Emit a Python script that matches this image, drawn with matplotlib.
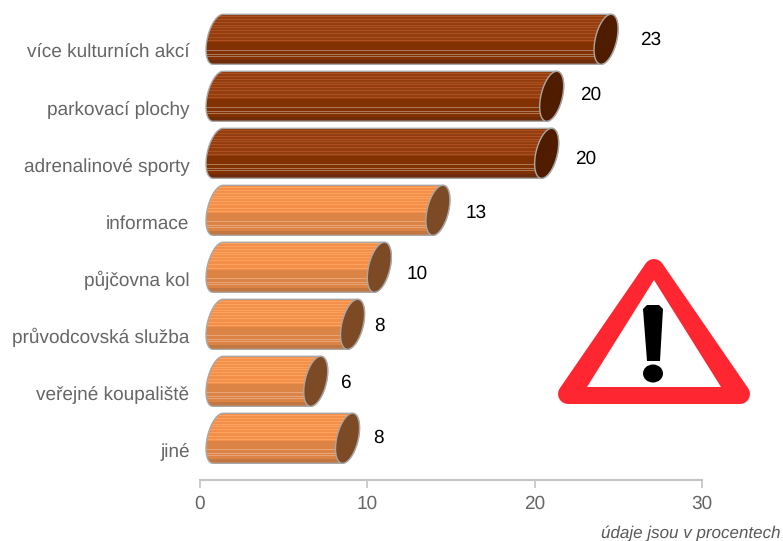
import numpy as np
import matplotlib
matplotlib.use("Agg")
import matplotlib.pyplot as plt
from matplotlib.patches import Polygon, Ellipse
from matplotlib.colors import to_rgb

categories = ["více kulturních akcí", "parkovací plochy", "adrenalinové sporty", "informace",
              "půjčovna kol", "průvodcovská služba", "veřejné koupaliště", "jiné"]
values = [23.25, 20.0, 19.7, 13.2, 9.7, 8.1, 5.9, 7.8]
value_labels = ["23", "20", "20", "13", "10", "8", "6", "8"]
x_ticks = [0, 10, 20, 30]
footnote = "údaje jsou v procentech"

# styling
W, H = 783, 541
X0, X30, Y_AXIS = 200, 702, 480
ROW0, ROW_STEP = 39.3, 57
label_dx = [33, 27, 27, 26, 26, 15, 18, 19]
label_dy = [1, -1, 6, 3, 7, 2, 2, 0]
PAL_DARK = dict(S="#6e2c0a", B="#933e10", L="#ae501e", D="#823102", G="#ab7858", F="#8a4a28")
PAL_ORANGE = dict(S="#c27640", B="#f48f4a", L="#fda35f", D="#db8445", G="#e8a477", F="#c89068")
STRIPES = "FBLBBLBBLBBLBLBBLBBLBBBLBBBLBDDDDDDDDGDDDGDGDDDSSSS"
CAP_DARK, CAP_ORANGE = "#4f1c00", "#7d4a26"
EDGE = "#a8a8a8"
GREY = "#595959"
plt.rcParams["font.family"] = ["Liberation Sans", "DejaVu Sans"]
plt.rcParams["text.hinting"] = "no_hinting"
plt.rcParams["text.hinting_factor"] = 1

fig = plt.figure(figsize=(W / 100, H / 100), dpi=100)
ax = fig.add_axes([X0 / W, 1 - Y_AXIS / H, (X30 - X0) / W, Y_AXIS / H])
ax.set_xlim(0, 30)
ylim = (((Y_AXIS - ROW0) / ROW_STEP), -ROW0 / ROW_STEP)

px = 30 / (X30 - X0)          # data units per pixel, x
py = 1 / ROW_STEP             # data units per pixel, y
start = 18 * px
a, s, h = 10.9 * px, 5 * px, 25 * py

def ellipse_xy(cx, cy, t):
    return cx + a * np.cos(t) - s * np.sin(t), cy + h * np.sin(t)

for i, v in enumerate(values):
    pal, cap = (PAL_DARK, CAP_DARK) if i < 3 else (PAL_ORANGE, CAP_ORANGE)
    x1 = start + v - 1 * px
    t_l = np.linspace(-np.pi / 2, -3 * np.pi / 2, 60)
    xl, yl = ellipse_xy(start, i, t_l)
    t_r = np.linspace(np.pi / 2, -np.pi / 2, 60)
    xr, yr = ellipse_xy(x1, i, t_r)
    body = np.column_stack([np.r_[xl, xr], np.r_[yl, yr]])
    poly = Polygon(body, closed=True, fc="none", ec=EDGE, lw=1.0, zorder=3, clip_on=False)
    ax.add_patch(poly)
    img = np.array([[to_rgb(pal[c])] for c in STRIPES])
    im = ax.imshow(img, extent=(start - 2 * a, x1 + 2 * a, i + h, i - h), aspect="auto",
                   interpolation="nearest", zorder=2)
    im.set_clip_path(Polygon(body, closed=True, transform=ax.transData))
    t = np.linspace(0, 2 * np.pi, 120)
    xc, yc = ellipse_xy(x1, i, t)
    ax.add_patch(Polygon(np.column_stack([xc, yc]), closed=True, fc=cap, ec=EDGE, lw=1.0,
                         zorder=4, clip_on=False))
    ax.annotate(value_labels[i], xy=(x1 + np.hypot(a, s), i),
                xytext=(label_dx[i] * 0.72, -label_dy[i] * 0.72), textcoords="offset points",
                ha="center", va="center", fontsize=14, color="black", zorder=5)

ax.set_xlim(0, 30)
ax.set_ylim(*ylim)
ax.patch.set_alpha(0)
for sp in ("top", "right", "left"):
    ax.spines[sp].set_visible(False)
ax.spines["bottom"].set_color("#c4c4c4")
ax.spines["bottom"].set_linewidth(1.5)
ax.set_xticks(x_ticks)
ax.tick_params(axis="x", length=6, width=1.2, color="#c4c4c4", labelcolor="#666666", labelsize=14, pad=5)
ax.set_yticks(np.arange(len(categories)) + 11.5 / ROW_STEP)
ax.set_yticklabels(categories)
ax.tick_params(axis="y", length=0, labelcolor="#666666", labelsize=14, pad=7.5)

fig.text(781 / W, 1 - 533.5 / H, footnote, ha="right", va="center", fontsize=11.9, style="italic", color=GREY)

# warning sign overlay, in pixel coordinates
ov = fig.add_axes([0, 0, 1, 1], facecolor="none")
ov.set_xlim(0, W)
ov.set_ylim(H, 0)
ov.axis("off")
ov.add_patch(Polygon([(654, 269), (568, 394), (740, 394)], closed=True, fc="#fe2630", ec="#fe2630",
                     lw=14.4, joinstyle="round"))
ov.add_patch(Polygon([(654, 280), (587, 387), (721, 387)], closed=True, fc="white", ec="none"))
ov.add_patch(Polygon([(643, 309), (647, 305), (659, 305), (663, 309), (660, 361), (647, 361)],
                     closed=True, fc="black", ec="none"))
ov.add_patch(Ellipse((653, 373.5), 20, 18, fc="black", ec="none"))

fig.savefig("out.png", dpi=100)
